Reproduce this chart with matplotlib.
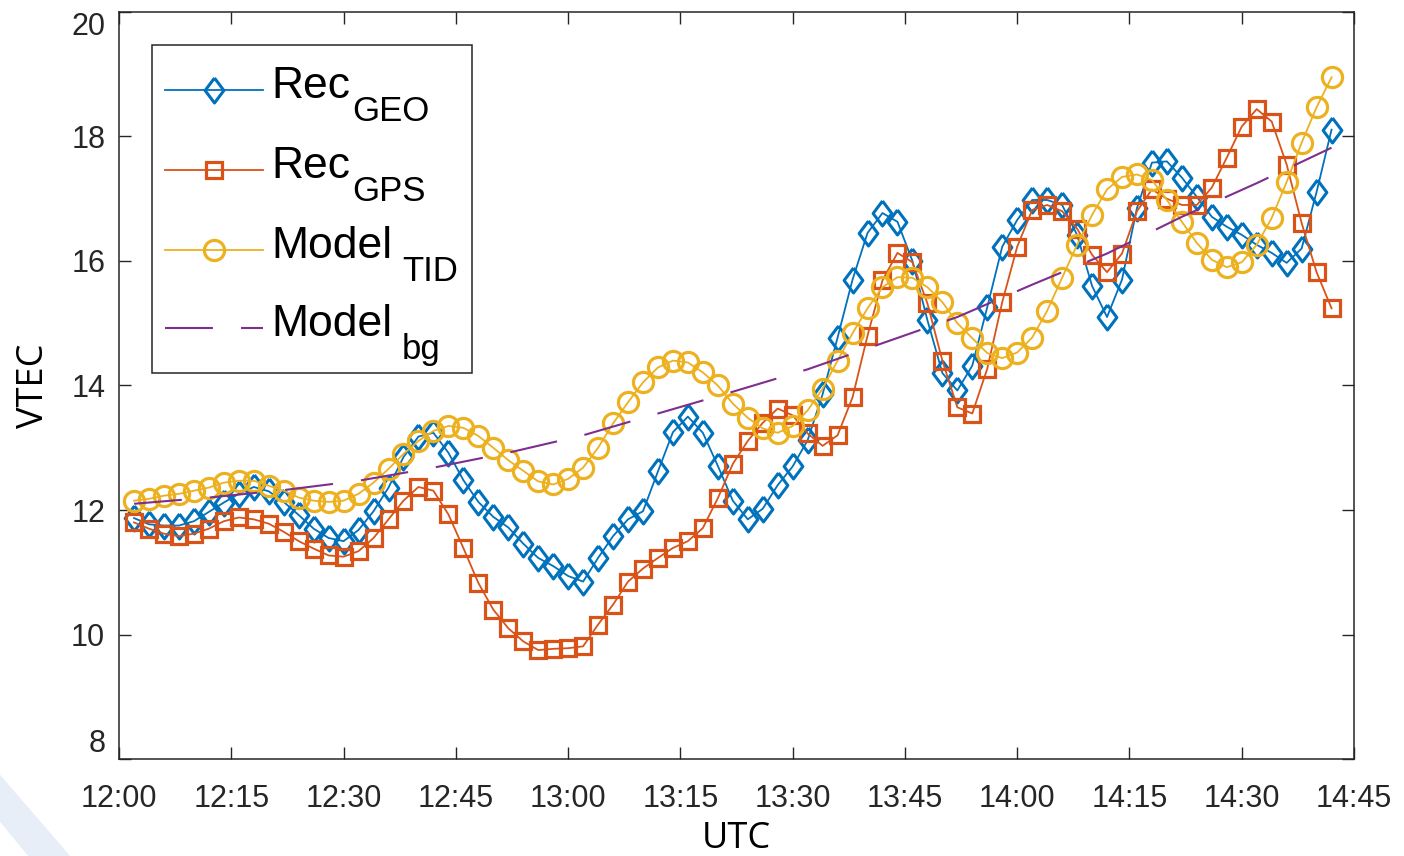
import matplotlib
matplotlib.use("Agg")
import matplotlib.pyplot as plt
from matplotlib.patches import Polygon, Rectangle
from matplotlib.lines import Line2D
import numpy as np

# sample times, minutes after 12:00 (one sample every 2 min)
minutes = np.arange(2, 163, 2)

rec_geo = [11.87, 11.77, 11.75, 11.75, 11.82, 11.97, 12.12, 12.26, 12.37, 12.30,
           12.13, 11.92, 11.70, 11.55, 11.50, 11.68, 11.98, 12.36, 12.85, 13.18,
           13.24, 12.92, 12.48, 12.13, 11.89, 11.72, 11.46, 11.23, 11.10,
           10.94, 10.85, 11.23, 11.58, 11.85, 11.98, 12.62, 13.25, 13.50, 13.24,
           12.71, 12.15, 11.85, 12.02, 12.40, 12.70, 13.12, 13.86, 14.77, 15.70,
           16.45, 16.77, 16.63, 16.00, 15.05, 14.20, 13.92, 14.32, 15.26, 16.23,
           16.66, 16.98, 16.98, 16.90, 16.42, 15.60, 15.10, 15.70, 16.85, 17.58,
           17.60, 17.34, 17.03, 16.71, 16.55, 16.42, 16.26, 16.13, 15.97, 16.20,
           17.11, 18.11]

rec_gps = [11.80, 11.70, 11.62, 11.58, 11.62, 11.70, 11.82, 11.88, 11.85, 11.78,
           11.65, 11.50, 11.38, 11.27, 11.25, 11.34, 11.55, 11.85, 12.15, 12.37,
           12.31, 11.93, 11.39, 10.83, 10.40, 10.10, 9.89, 9.75, 9.77,
           9.78, 9.81, 10.16, 10.48, 10.85, 11.06, 11.23, 11.39, 11.50, 11.71,
           12.19, 12.74, 13.11, 13.40, 13.63, 13.52, 13.23, 13.03, 13.20, 13.81,
           14.80, 15.69, 16.13, 15.98, 15.32, 14.40, 13.65, 13.55, 14.27, 15.34,
           16.23, 16.82, 16.90, 16.80, 16.52, 16.10, 15.82, 16.12, 16.80, 17.15,
           17.00, 16.90, 16.90, 17.18, 17.66, 18.16, 18.44, 18.24, 17.55, 16.61,
           15.82, 15.24]

model_tid = [12.15, 12.18, 12.23, 12.26, 12.31, 12.36, 12.44, 12.47, 12.47, 12.39,
             12.31, 12.20, 12.15, 12.13, 12.15, 12.26, 12.44, 12.66, 12.90, 13.11,
             13.27, 13.35, 13.32, 13.19, 13.00, 12.80, 12.63, 12.46, 12.41,
             12.50, 12.68, 13.00, 13.39, 13.73, 14.05, 14.29, 14.40, 14.37, 14.21,
             14.00, 13.71, 13.48, 13.31, 13.24, 13.35, 13.60, 13.95, 14.40, 14.84,
             15.24, 15.58, 15.74, 15.73, 15.58, 15.34, 15.00, 14.76, 14.52, 14.44,
             14.53, 14.77, 15.20, 15.73, 16.26, 16.74, 17.15, 17.35, 17.39, 17.30,
             16.98, 16.63, 16.29, 16.02, 15.90, 15.98, 16.26, 16.69, 17.27, 17.90,
             18.47, 18.95]

# background model, read every 10 min
bg_minutes = [2, 12, 22, 32, 42, 52, 62, 72, 82, 92, 102, 112, 122, 132, 142, 152, 162]
model_bg = [12.10, 12.20, 12.32, 12.47, 12.68, 12.92, 13.20, 13.55, 13.90, 14.26,
            14.68, 15.10, 15.62, 16.12, 16.71, 17.25, 17.82]

tick_minutes = [0, 15, 30, 45, 60, 75, 90, 105, 120, 135, 150, 165]
tick_labels = ["12:00", "12:15", "12:30", "12:45", "13:00", "13:15",
               "13:30", "13:45", "14:00", "14:15", "14:30", "14:45"]

legend_main = ["Rec", "Rec", "Model", "Model"]
legend_sub = ["GEO", "GPS", "TID", "bg"]

# matlab default colours
c_blue = "#0072BD"
c_orange = "#D95319"
c_yellow = "#EDB120"
c_purple = "#7E2F8E"

plt.rcParams["font.family"] = ["Liberation Sans", "DejaVu Sans"]

W, H = 1404, 856
fig = plt.figure(figsize=(W / 100, H / 100), dpi=100)
ax = fig.add_axes([0.0848, 0.1133, 0.8796, 0.8727])


def fx(px):
    return px / W


def fy(py):
    return 1 - py / H


diamond = [(0, 1), (0.75, 0), (0, -1), (-0.75, 0), (0, 1)]
styles = [
    dict(color=c_blue, lw=1.3, marker=diamond, ms=18, mfc="none", mew=2.2),
    dict(color=c_orange, lw=1.3, marker="s", ms=11.5, mfc="none", mew=2.3),
    dict(color=c_yellow, lw=1.3, marker="o", ms=14.5, mfc="none", mew=2.3),
    dict(color=c_purple, lw=1.5, dashes=(23, 13.5)),
]

ax.plot(minutes, rec_geo, **styles[0])
ax.plot(minutes, rec_gps, **styles[1])
ax.plot(minutes, model_tid, **styles[2])
ax.plot(bg_minutes, model_bg, **styles[3])

ax.set_xlim(0, 165)
ax.set_ylim(8, 20)
ax.set_xticks(tick_minutes)
ax.set_xticklabels(tick_labels)
ax.set_yticks([8, 10, 12, 14, 16, 18, 20])
ax.tick_params(direction="in", length=8.5, width=1, labelsize=22, colors="#262626",
               top=True, right=True)
ax.tick_params(axis="x", pad=18)
ax.tick_params(axis="y", pad=10)
ylabs = ax.get_yticklabels()
ylabs[0].set_va("bottom")
ylabs[-1].set_va("top")
for s in ax.spines.values():
    s.set_color("#262626")
    s.set_linewidth(1.1)

ax.set_xlabel("UTC", fontsize=26, family="Open Sans", labelpad=5)
ax.set_ylabel("VTEC", fontsize=26, family="Open Sans", labelpad=14)

# legend drawn by hand so the subscripts sit as low as in matlab
fig.add_artist(Rectangle((fx(152), fy(373)), fx(472) - fx(152), fy(45) - fy(373),
                         transform=fig.transFigure, facecolor="white",
                         edgecolor="#262626", lw=1.1, zorder=5))
row_y = [90, 170, 250, 328]
sub_x = [352, 352, 402, 402]
for i in range(4):
    fig.add_artist(Line2D([fx(165), fx(214), fx(263)], [fy(row_y[i])] * 3,
                          transform=fig.transFigure, markevery=[1],
                          zorder=6, **styles[i]))
    fig.text(fx(271), fy(row_y[i] + 8), legend_main[i], fontsize=32,
             va="baseline", ha="left", zorder=7)
    fig.text(fx(sub_x[i]), fy(row_y[i] + 31), legend_sub[i], fontsize=25,
             va="baseline", ha="left", zorder=7)

# faint slide decoration in the lower left corner
fig.patches.append(Polygon([(0, 0.095), (0.05, 0), (0.02, 0), (0, 0.04)],
                           closed=True, transform=fig.transFigure,
                           facecolor="#e8eef8", edgecolor="none", zorder=0))

fig.savefig("out.png", dpi=100, facecolor="white")
